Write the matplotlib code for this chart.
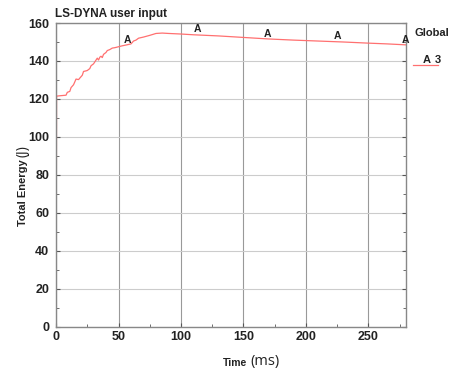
import matplotlib.pyplot as plt
from matplotlib.ticker import MultipleLocator

# curve (time in ms, energy in J)
time = [0, 0.4, 3, 8, 9, 11, 12, 14, 15, 16, 18, 19, 21, 22, 24, 25, 27, 28, 30, 31,
        33, 34, 35, 36, 37, 38, 40, 41, 43, 45, 47, 50, 53, 56, 60, 62, 64, 66, 70,
        75, 80, 85, 90, 100, 110, 130, 150, 170, 190, 210, 230, 250, 265, 280]
energy = [0, 121.5, 121.7, 122.0, 123.5, 124.0, 126.0, 127.5, 129.0, 130.5, 130.2, 131.0,
          132.5, 134.5, 134.8, 135.0, 136.0, 137.5, 138.5, 139.5, 141.5, 140.5, 142.0,
          142.5, 141.8, 143.5, 144.5, 145.5, 146.0, 146.8, 147.0, 147.5, 148.0, 148.4,
          149.0, 150.5, 151.0, 152.0, 152.6, 153.5, 154.5, 154.7, 154.5, 154.2, 153.8,
          153.2, 152.4, 151.6, 151.0, 150.5, 150.0, 149.4, 149.0, 148.5]
marker_t = [57, 113, 169, 225, 280]
marker_e = [148.3, 153.7, 151.5, 150.0, 148.0]

plt.rcParams['font.family'] = ['Liberation Sans', 'DejaVu Sans']

fig = plt.figure(figsize=(4.52, 3.74), dpi=100)
ax = fig.add_axes([0.124, 0.1257, 0.774, 0.8128])

ax.plot(time, energy, color='#ff7070', lw=0.9)
for t, e in zip(marker_t, marker_e):
    ax.text(t, e + 0.3, 'A', fontsize=7.5, fontweight='bold', ha='center', va='bottom',
            color='#222222', clip_on=False)

ax.set_xlim(0, 280)
ax.set_ylim(0, 160)
ax.xaxis.set_major_locator(MultipleLocator(50))
ax.xaxis.set_minor_locator(MultipleLocator(25))
ax.yaxis.set_major_locator(MultipleLocator(20))
ax.yaxis.set_minor_locator(MultipleLocator(10))
ax.tick_params(which='both', direction='in', top=False, right=True, labelsize=9,
               color='#555555')
ax.tick_params(axis='y', pad=5)
ax.tick_params(axis='x', pad=3)
ax.tick_params(which='major', length=3)
ax.tick_params(which='minor', length=2)
for lab in ax.get_xticklabels() + ax.get_yticklabels():
    lab.set_fontweight('bold')
    lab.set_color('#222222')

ax.grid(True, axis='x', color='#999999', lw=0.8)
ax.grid(True, axis='y', color='#cccccc', lw=0.8)
for s in ax.spines.values():
    s.set_color('#888888')
    s.set_linewidth(1.0)

fig.text(0.122, 0.962, 'LS-DYNA user input', fontsize=8.5, fontweight='bold',
         va='center', color='#222222')

# legend on the right
fig.text(0.918, 0.913, 'Global', fontsize=8, fontweight='bold', va='center',
         color='#222222')
fig.add_artist(plt.Line2D([0.914, 0.969], [0.826, 0.826], color='#ff7070', lw=0.9))
fig.text(0.936, 0.84, 'A', fontsize=8, fontweight='bold', va='center', color='#222222')
fig.text(0.962, 0.84, '3', fontsize=8, fontweight='bold', va='center', color='#222222')

# axis labels
fig.text(0.493, 0.03, 'Time', fontsize=7.5, fontweight='bold', va='center',
         color='#222222')
fig.text(0.555, 0.033, '(ms)', fontsize=10.5, family='Open Sans', va='center',
         color='#222222')
fig.text(0.051, 0.485, 'Total Energy', fontsize=8, fontweight='bold', rotation=90,
         ha='center', va='center', color='#222222')
fig.text(0.051, 0.596, '(J)', fontsize=10, family='Open Sans', rotation=90,
         ha='center', va='center', color='#222222')

fig.savefig('out.png', dpi=100)
